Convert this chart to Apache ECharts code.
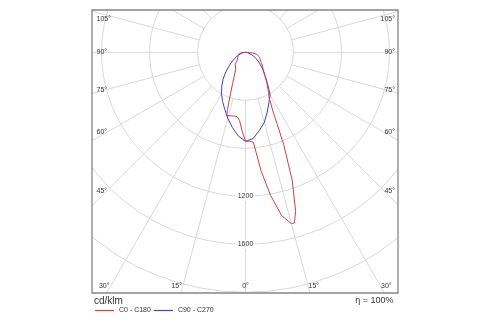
<!DOCTYPE html>
<html>
<head>
<meta charset="utf-8">
<script src="https://cdn.jsdelivr.net/npm/echarts@6/dist/echarts.min.js"></script>
<style>
  html, body { margin: 0; padding: 0; background: #fff; }
  #chart { width: 500px; height: 325px; }
</style>
</head>
<body>
<div id="chart"></div>
<script>
// ---- Data (cd/klm) ----
const c0Gamma   = [0, 2.5, 5, 7.5, 10, 12.5, 15, 16, 17.5, 20, 22.5, 25, 27.5, 30, 35, 40, 45, 50, 55, 60, 65, 70, 75, 80, 85, 90];
const c0Values  = [740, 742, 752, 1000, 1215, 1395, 1478, 1478, 1390, 1140, 833, 540, 425, 385, 310, 250, 210, 185, 165, 145, 135, 125, 115, 95, 60, 0];
const c180Gamma  = [0, 2.5, 5, 7.5, 10, 12.5, 15, 16.5, 17.5, 20, 22.5, 25, 30, 35, 40, 42.5, 45, 50, 55, 60, 65, 70, 75, 80, 85, 90];
const c180Values = [740, 655, 570, 540, 540, 542, 545, 550, 500, 362, 280, 225, 162, 136, 133, 113, 100, 88, 80, 73, 66, 60, 56, 52, 30, 0];
const c90Gamma   = [0, 5, 10, 15, 20, 25, 30, 35, 40, 45, 50, 55, 60, 65, 70, 75, 80, 85, 90];
const c90Values  = [742, 722, 662, 605, 530, 462, 410, 320, 255, 205, 162, 128, 98, 75, 50, 33, 20, 10, 0];
const c270Gamma  = [0, 5, 10, 15, 20, 25, 30, 35, 40, 45, 50, 55, 60, 65, 70, 75, 80, 85, 90];
const c270Values = [742, 700, 635, 570, 505, 452, 400, 345, 290, 232, 180, 140, 105, 80, 58, 40, 25, 12, 0];

const seriesNames = ['C0 - C180', 'C90 - C270'];
const radiusLabels = [1200, 1600];
const angleTickLabels = ['105°', '90°', '75°', '60°', '45°', '30°', '15°', '0°'];
const unitLabel = 'cd/klm';
const efficiencyLabel = 'η = 100%';

// ---- Layout / style ----
const W = 500, H = 325;
const box = { x0: 92, y0: 10, x1: 398, y1: 293 };
const cx = 245.5, cy = 52.3;
const rMax = 2400, rPix = 288;
const gridColor = '#d9d9d9';
const textColor = '#333333';
const font = '"Liberation Sans", Arial, sans-serif';
const redColor = '#d04040';
const blueColor = '#4040bf';

// Build polar data: [radius, angle]; right half-plane = +gamma, left = 360 - gamma
function halfPlanes(leftG, leftV, rightG, rightV) {
  const out = [];
  for (let i = leftG.length - 1; i >= 0; i--) out.push([leftV[i], 360 - leftG[i]]);
  for (let i = 0; i < rightG.length; i++) out.push([rightV[i], rightG[i]]);
  return out;
}
const redData = halfPlanes(c180Gamma, c180Values, c0Gamma, c0Values);
const blueData = halfPlanes(c270Gamma, c270Values, c90Gamma, c90Values);

// Angle label placement (text positions along box edges)
const sideYs = [19, 52.3, 90, 132.3, 191.5];
const bottomY = 286;
const labelEls = [];
function txt(x, y, text, align, size) {
  return {
    type: 'text', x: x, y: y, z: 120,
    style: { text: text, fill: textColor, fontSize: size, fontFamily: font, align: align, verticalAlign: 'middle' }
  };
}
for (let i = 0; i < 5; i++) {
  labelEls.push(txt(96.5, sideYs[i], angleTickLabels[i], 'left', 7));
  labelEls.push(txt(395, sideYs[i], angleTickLabels[i], 'right', 7));
}
labelEls.push(txt(109.5, bottomY, angleTickLabels[5], 'right', 7));
labelEls.push(txt(182, bottomY, angleTickLabels[6], 'right', 7));
labelEls.push(txt(cx, bottomY, angleTickLabels[7], 'center', 7));
labelEls.push(txt(308.5, bottomY, angleTickLabels[6], 'left', 7));
labelEls.push(txt(381, bottomY, angleTickLabels[5], 'left', 7));
labelEls.push(txt(94, 301, unitLabel, 'left', 10));
labelEls.push(txt(393.5, 301, efficiencyLabel, 'right', 9));

const masks = [
  { type: 'rect', z: 100, shape: { x: 0, y: 0, width: W, height: box.y0 }, style: { fill: '#fff' } },
  { type: 'rect', z: 100, shape: { x: 0, y: 0, width: box.x0, height: H }, style: { fill: '#fff' } },
  { type: 'rect', z: 100, shape: { x: box.x1, y: 0, width: W - box.x1, height: H }, style: { fill: '#fff' } },
  { type: 'rect', z: 100, shape: { x: 0, y: box.y1, width: W, height: H - box.y1 }, style: { fill: '#fff' } },
  { type: 'rect', z: 110, shape: { x: box.x0, y: box.y0, width: box.x1 - box.x0, height: box.y1 - box.y0 },
    style: { fill: 'none', stroke: '#858585', lineWidth: 1.3 } }
];

const chart = echarts.init(document.getElementById('chart'), null, { renderer: 'canvas', width: W, height: H });
chart.setOption({
  animation: false,
  backgroundColor: '#fff',
  polar: [
    { center: [cx, cy], radius: [rPix * 400 / rMax, rPix] },
    { center: [cx, cy], radius: [0, rPix] }
  ],
  angleAxis: [
    { polarIndex: 0, type: 'value', min: 0, max: 360, interval: 15, startAngle: 270, clockwise: false, z: 0,
      axisLine: { show: false }, axisTick: { show: false }, axisLabel: { show: false },
      splitLine: { show: true, lineStyle: { color: gridColor, width: 1 } } },
    { polarIndex: 1, type: 'value', min: 0, max: 360, interval: 15, startAngle: 270, clockwise: false, z: 1,
      axisLine: { show: false }, axisTick: { show: false }, axisLabel: { show: false }, splitLine: { show: false } }
  ],
  radiusAxis: [
    { polarIndex: 0, type: 'value', min: 0, max: rMax, show: false },
    { polarIndex: 1, type: 'value', min: 0, max: rMax, interval: 400, z: 5,
      axisLine: { show: false }, axisTick: { show: false },
      splitLine: { show: true, lineStyle: { color: gridColor, width: 1 } },
      axisLabel: {
        customValues: radiusLabels,
        formatter: function (v) { return radiusLabels.indexOf(v) >= 0 ? String(v) : ''; },
        margin: 0, align: 'center', verticalAlign: 'middle',
        backgroundColor: '#fff', padding: [1, 1],
        fontSize: 7, fontFamily: font, color: textColor
      } }
  ],
  legend: {
    z: 130, left: 95, top: 307, padding: 0, itemWidth: 19, itemHeight: 1.2, itemGap: 3,
    icon: 'rect',
    data: seriesNames, selectedMode: false,
    textStyle: { fontSize: 7, fontFamily: font, color: textColor }
  },
  series: [
    { name: seriesNames[0], type: 'line', coordinateSystem: 'polar', polarIndex: 1, z: 20,
      data: redData, symbol: 'none', smooth: false, lineStyle: { color: redColor, width: 1 }, itemStyle: { color: redColor } },
    { name: seriesNames[1], type: 'line', coordinateSystem: 'polar', polarIndex: 1, z: 19,
      data: blueData, symbol: 'none', smooth: false, lineStyle: { color: blueColor, width: 1 }, itemStyle: { color: blueColor } }
  ],
  graphic: { elements: masks.concat(labelEls) }
});
</script>
</body>
</html>
